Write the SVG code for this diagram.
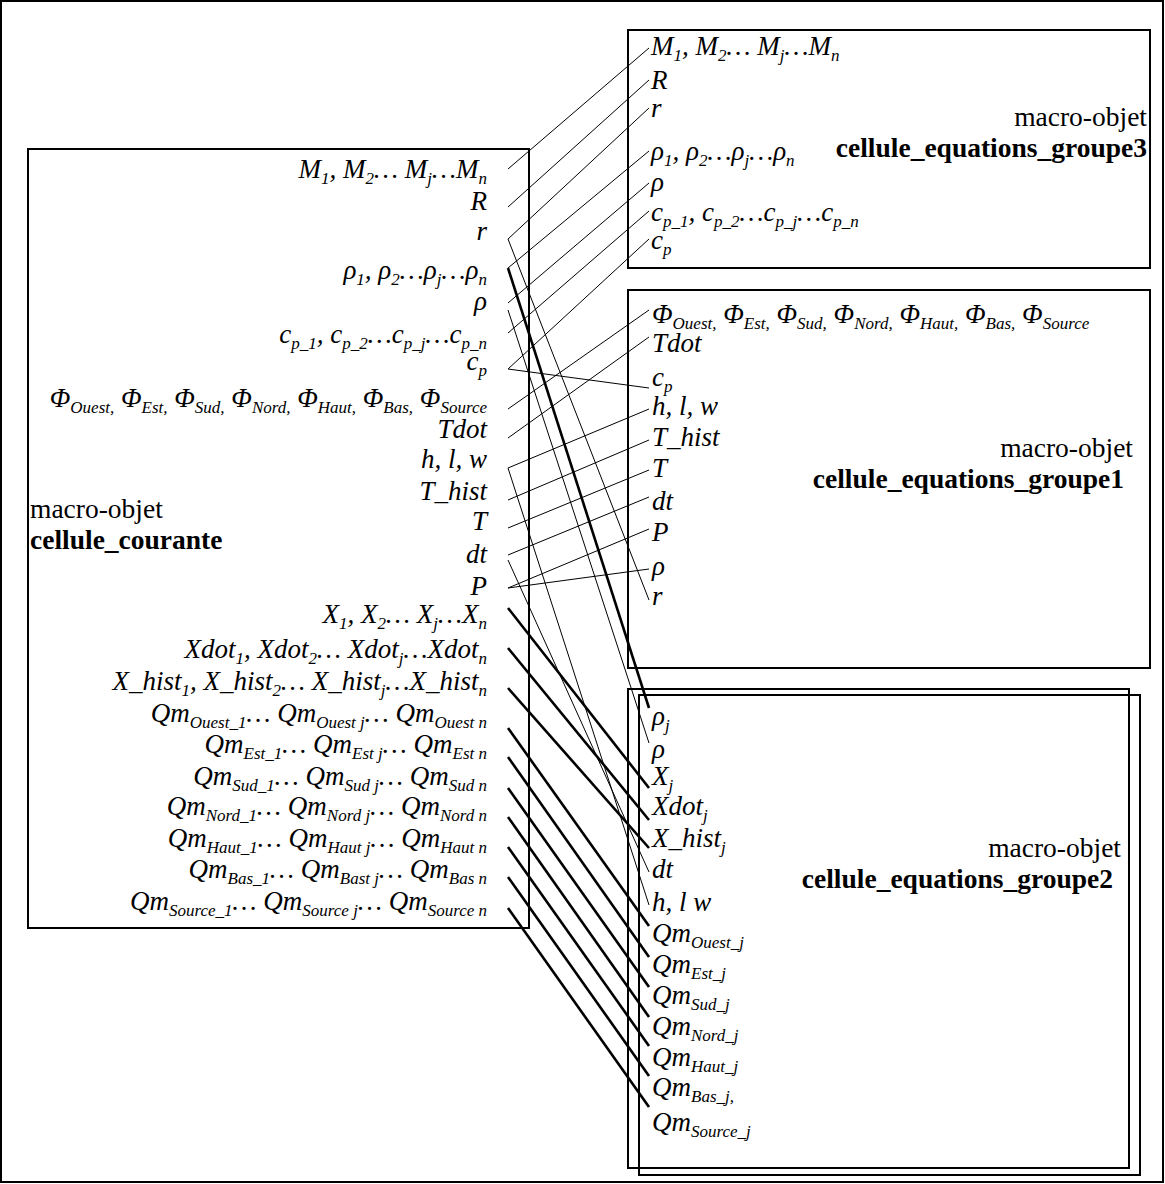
<svg xmlns="http://www.w3.org/2000/svg" width="1165" height="1184" viewBox="0 0 1165 1184">
<style>
.t{font-family:"Liberation Serif","Times New Roman",serif;font-size:27px;font-style:italic;fill:#000}
.e{text-anchor:end}
.s{font-size:17px}
.lab{font-family:"Liberation Serif","Times New Roman",serif;font-size:27.5px;fill:#000}
.b{font-weight:bold}
.box{fill:none;stroke:#000;stroke-width:2}
.thin{stroke:#000;stroke-width:1;fill:none}
.thick{stroke:#000;stroke-width:2.6;fill:none}
</style>
<rect x="1" y="1" width="1162" height="1181" class="box"/>

<g id="cellule_courante">
<rect x="28" y="149" width="501" height="779" class="box"/>
<text class="lab" x="30" y="518">macro-objet</text>
<text class="lab b" x="30" y="549">cellule_courante</text>
<text class="t e" x="487" y="178">M<tspan class="s" dy="6">1</tspan><tspan dy="-6">, M</tspan><tspan class="s" dy="6">2</tspan><tspan dy="-6">… M</tspan><tspan class="s" dy="6">j</tspan><tspan dy="-6">…M</tspan><tspan class="s" dy="6">n</tspan></text>
<text class="t e" x="487" y="210">R</text>
<text class="t e" x="487" y="240">r</text>
<text class="t e" x="487" y="279">ρ<tspan class="s" dy="6">1</tspan><tspan dy="-6">, ρ</tspan><tspan class="s" dy="6">2</tspan><tspan dy="-6">…ρ</tspan><tspan class="s" dy="6">j</tspan><tspan dy="-6">…ρ</tspan><tspan class="s" dy="6">n</tspan></text>
<text class="t e" x="487" y="310">ρ</text>
<text class="t e" x="487" y="343">c<tspan class="s" dy="6">p_1</tspan><tspan dy="-6">, c</tspan><tspan class="s" dy="6">p_2</tspan><tspan dy="-6">…c</tspan><tspan class="s" dy="6">p_j</tspan><tspan dy="-6">…c</tspan><tspan class="s" dy="6">p_n</tspan></text>
<text class="t e" x="487" y="370">c<tspan class="s" dy="6">p</tspan></text>
<text class="t e" x="487" y="407">Φ<tspan class="s" dy="6">Ouest,</tspan><tspan dy="-6"> Φ</tspan><tspan class="s" dy="6">Est,</tspan><tspan dy="-6"> Φ</tspan><tspan class="s" dy="6">Sud,</tspan><tspan dy="-6"> Φ</tspan><tspan class="s" dy="6">Nord,</tspan><tspan dy="-6"> Φ</tspan><tspan class="s" dy="6">Haut,</tspan><tspan dy="-6"> Φ</tspan><tspan class="s" dy="6">Bas,</tspan><tspan dy="-6"> Φ</tspan><tspan class="s" dy="6">Source</tspan></text>
<text class="t e" x="487" y="438">Tdot</text>
<text class="t e" x="487" y="468">h, l, w</text>
<text class="t e" x="487" y="500">T_hist</text>
<text class="t e" x="487" y="530">T</text>
<text class="t e" x="487" y="563">dt</text>
<text class="t e" x="487" y="595">P</text>
<text class="t e" x="487" y="623">X<tspan class="s" dy="6">1</tspan><tspan dy="-6">, X</tspan><tspan class="s" dy="6">2</tspan><tspan dy="-6">… X</tspan><tspan class="s" dy="6">j</tspan><tspan dy="-6">…X</tspan><tspan class="s" dy="6">n</tspan></text>
<text class="t e" x="487" y="658">Xdot<tspan class="s" dy="6">1</tspan><tspan dy="-6">, Xdot</tspan><tspan class="s" dy="6">2</tspan><tspan dy="-6">… Xdot</tspan><tspan class="s" dy="6">j</tspan><tspan dy="-6">…Xdot</tspan><tspan class="s" dy="6">n</tspan></text>
<text class="t e" x="487" y="690">X_hist<tspan class="s" dy="6">1</tspan><tspan dy="-6">, X_hist</tspan><tspan class="s" dy="6">2</tspan><tspan dy="-6">… X_hist</tspan><tspan class="s" dy="6">j</tspan><tspan dy="-6">…X_hist</tspan><tspan class="s" dy="6">n</tspan></text>
<text class="t e" x="487" y="722">Qm<tspan class="s" dy="6">Ouest_1</tspan><tspan dy="-6">… Qm</tspan><tspan class="s" dy="6">Ouest j</tspan><tspan dy="-6">… Qm</tspan><tspan class="s" dy="6">Ouest n</tspan></text>
<text class="t e" x="487" y="753">Qm<tspan class="s" dy="6">Est_1</tspan><tspan dy="-6">… Qm</tspan><tspan class="s" dy="6">Est j</tspan><tspan dy="-6">… Qm</tspan><tspan class="s" dy="6">Est n</tspan></text>
<text class="t e" x="487" y="785">Qm<tspan class="s" dy="6">Sud_1</tspan><tspan dy="-6">… Qm</tspan><tspan class="s" dy="6">Sud j</tspan><tspan dy="-6">… Qm</tspan><tspan class="s" dy="6">Sud n</tspan></text>
<text class="t e" x="487" y="815">Qm<tspan class="s" dy="6">Nord_1</tspan><tspan dy="-6">… Qm</tspan><tspan class="s" dy="6">Nord j</tspan><tspan dy="-6">… Qm</tspan><tspan class="s" dy="6">Nord n</tspan></text>
<text class="t e" x="487" y="847">Qm<tspan class="s" dy="6">Haut_1</tspan><tspan dy="-6">… Qm</tspan><tspan class="s" dy="6">Haut j</tspan><tspan dy="-6">… Qm</tspan><tspan class="s" dy="6">Haut n</tspan></text>
<text class="t e" x="487" y="878">Qm<tspan class="s" dy="6">Bas_1</tspan><tspan dy="-6">… Qm</tspan><tspan class="s" dy="6">Bast j</tspan><tspan dy="-6">… Qm</tspan><tspan class="s" dy="6">Bas n</tspan></text>
<text class="t e" x="487" y="910">Qm<tspan class="s" dy="6">Source_1</tspan><tspan dy="-6">… Qm</tspan><tspan class="s" dy="6">Source j</tspan><tspan dy="-6">… Qm</tspan><tspan class="s" dy="6">Source n</tspan></text>
</g>

<g id="cellule_equations_groupe3">
<rect x="628" y="30" width="522" height="238" class="box"/>
<text class="lab e" x="1147" y="126">macro-objet</text>
<text class="lab b e" x="1147" y="157">cellule_equations_groupe3</text>
<text class="t" x="651" y="55">M<tspan class="s" dy="6">1</tspan><tspan dy="-6">, M</tspan><tspan class="s" dy="6">2</tspan><tspan dy="-6">… M</tspan><tspan class="s" dy="6">j</tspan><tspan dy="-6">…M</tspan><tspan class="s" dy="6">n</tspan></text>
<text class="t" x="651" y="89">R</text>
<text class="t" x="651" y="117">r</text>
<text class="t" x="651" y="160">ρ<tspan class="s" dy="6">1</tspan><tspan dy="-6">, ρ</tspan><tspan class="s" dy="6">2</tspan><tspan dy="-6">…ρ</tspan><tspan class="s" dy="6">j</tspan><tspan dy="-6">…ρ</tspan><tspan class="s" dy="6">n</tspan></text>
<text class="t" x="651" y="191">ρ</text>
<text class="t" x="651" y="221">c<tspan class="s" dy="6">p_1</tspan><tspan dy="-6">, c</tspan><tspan class="s" dy="6">p_2</tspan><tspan dy="-6">…c</tspan><tspan class="s" dy="6">p_j</tspan><tspan dy="-6">…c</tspan><tspan class="s" dy="6">p_n</tspan></text>
<text class="t" x="651" y="249">c<tspan class="s" dy="6">p</tspan></text>
</g>

<g id="cellule_equations_groupe1">
<rect x="628" y="290" width="522" height="378" class="box"/>
<text class="lab e" x="1133" y="457">macro-objet</text>
<text class="lab b e" x="1124" y="488">cellule_equations_groupe1</text>
<text class="t" x="652" y="323">Φ<tspan class="s" dy="6">Ouest,</tspan><tspan dy="-6"> Φ</tspan><tspan class="s" dy="6">Est,</tspan><tspan dy="-6"> Φ</tspan><tspan class="s" dy="6">Sud,</tspan><tspan dy="-6"> Φ</tspan><tspan class="s" dy="6">Nord,</tspan><tspan dy="-6"> Φ</tspan><tspan class="s" dy="6">Haut,</tspan><tspan dy="-6"> Φ</tspan><tspan class="s" dy="6">Bas,</tspan><tspan dy="-6"> Φ</tspan><tspan class="s" dy="6">Source</tspan></text>
<text class="t" x="652" y="352">Tdot</text>
<text class="t" x="652" y="386">c<tspan class="s" dy="6">p</tspan></text>
<text class="t" x="652" y="415">h, l, w</text>
<text class="t" x="652" y="446">T_hist</text>
<text class="t" x="652" y="477">T</text>
<text class="t" x="652" y="510">dt</text>
<text class="t" x="652" y="541">P</text>
<text class="t" x="652" y="575">ρ</text>
<text class="t" x="652" y="605">r</text>
</g>

<g id="cellule_equations_groupe2">
<rect x="628" y="689" width="501" height="479" class="box"/>
<rect x="639" y="695" width="501" height="480" class="box"/>
<text class="lab e" x="1121" y="857">macro-objet</text>
<text class="lab b e" x="1113" y="888">cellule_equations_groupe2</text>
<text class="t" x="652" y="725">ρ<tspan class="s" dy="6">j</tspan></text>
<text class="t" x="652" y="758">ρ</text>
<text class="t" x="652" y="785">X<tspan class="s" dy="6">j</tspan></text>
<text class="t" x="652" y="815">Xdot<tspan class="s" dy="6">j</tspan></text>
<text class="t" x="652" y="847">X_hist<tspan class="s" dy="6">j</tspan></text>
<text class="t" x="652" y="878">dt</text>
<text class="t" x="652" y="911">h, l w</text>
<text class="t" x="652" y="942">Qm<tspan class="s" dy="6">Ouest_j</tspan></text>
<text class="t" x="652" y="973">Qm<tspan class="s" dy="6">Est_j</tspan></text>
<text class="t" x="652" y="1004">Qm<tspan class="s" dy="6">Sud_j</tspan></text>
<text class="t" x="652" y="1035">Qm<tspan class="s" dy="6">Nord_j</tspan></text>
<text class="t" x="652" y="1066">Qm<tspan class="s" dy="6">Haut_j</tspan></text>
<text class="t" x="652" y="1096">Qm<tspan class="s" dy="6">Bas_j,</tspan></text>
<text class="t" x="652" y="1131">Qm<tspan class="s" dy="6">Source_j</tspan></text>
</g>

<g id="connectors">
<line class="thin" x1="508" y1="169" x2="649" y2="48"/>
<line class="thin" x1="508" y1="207" x2="649" y2="80"/>
<line class="thin" x1="508" y1="239" x2="649" y2="108"/>
<line class="thin" x1="508" y1="239" x2="649" y2="600"/>
<line class="thin" x1="508" y1="268" x2="649" y2="151"/>
<line class="thick" x1="508" y1="268" x2="649" y2="708"/>
<line class="thin" x1="508" y1="303" x2="649" y2="183"/>
<line class="thin" x1="508" y1="310" x2="649" y2="743"/>
<line class="thin" x1="508" y1="333" x2="649" y2="211"/>
<line class="thin" x1="508" y1="369" x2="649" y2="239"/>
<line class="thin" x1="508" y1="369" x2="649" y2="388"/>
<line class="thin" x1="508" y1="409" x2="649" y2="310"/>
<line class="thin" x1="508" y1="438" x2="649" y2="337"/>
<line class="thin" x1="508" y1="468" x2="649" y2="409"/>
<line class="thin" x1="508" y1="468" x2="649" y2="905"/>
<line class="thin" x1="508" y1="500" x2="649" y2="440"/>
<line class="thin" x1="508" y1="528" x2="649" y2="470"/>
<line class="thin" x1="508" y1="555" x2="649" y2="497"/>
<line class="thin" x1="508" y1="560" x2="649" y2="872"/>
<line class="thin" x1="508" y1="588" x2="649" y2="529"/>
<line class="thin" x1="508" y1="588" x2="649" y2="569"/>
<line class="thick" x1="508" y1="608" x2="649" y2="788"/>
<line class="thick" x1="508" y1="648" x2="649" y2="820"/>
<line class="thick" x1="508" y1="688" x2="649" y2="848"/>
<line class="thick" x1="508" y1="728" x2="649" y2="926"/>
<line class="thick" x1="508" y1="757" x2="649" y2="957"/>
<line class="thick" x1="508" y1="788" x2="649" y2="987"/>
<line class="thick" x1="508" y1="817" x2="649" y2="1017"/>
<line class="thick" x1="508" y1="847" x2="649" y2="1046"/>
<line class="thick" x1="508" y1="877" x2="649" y2="1076"/>
<line class="thick" x1="508" y1="908" x2="649" y2="1107"/>
</g>
</svg>
